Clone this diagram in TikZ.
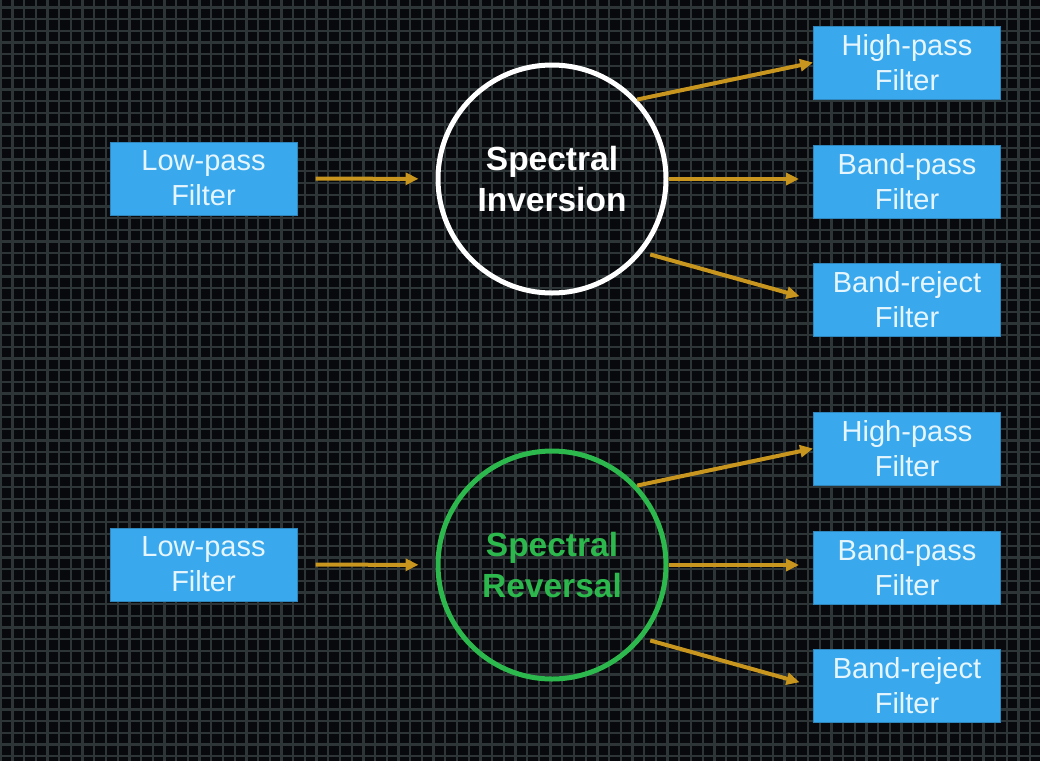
\documentclass[tikz,border=0pt]{standalone}
\usepackage{fontspec}
\setmainfont{Liberation Sans}
\usetikzlibrary{arrows.meta}
\definecolor{bg}{HTML}{08090C}
\definecolor{gridc}{HTML}{2E3537}
\definecolor{boxc}{HTML}{3AA8EC}
\definecolor{boxtext}{HTML}{E6F6FF}
\definecolor{arrowc}{HTML}{C8961E}
\definecolor{greenc}{HTML}{2DB84D}
\begin{document}
\begin{tikzpicture}[x=1pt,y=-1pt,
  filterbox/.style={fill=boxc, draw=boxc!80!black, line width=1pt, minimum width=187pt, minimum height=73pt, inner sep=0pt, text=boxtext, align=center, font=\fontsize{29}{35}\selectfont},
  ring/.style={circle, minimum size=228pt, inner sep=0pt, line width=5pt, align=center, font=\bfseries\fontsize{33.5}{41}\selectfont},
  flow/.style={draw=arrowc, line width=4pt, -{Triangle[length=13pt,width=12pt]}}]
\fill[bg] (0,0) rectangle (1040,761);
\useasboundingbox (0,0) rectangle (1040,761);
\foreach \i in {0,...,89} \draw[gridc, line width=2.3pt] ({0.7+\i*11.7},0) -- ++(0,761);
\foreach \j in {0,...,65} \draw[gridc, line width=2.3pt] (0,{-4.2+\j*11.7}) -- ++(1040,0);

\node[filterbox] (lp1) at (203.5,178.5) {Low-pass\\Filter};
\node[ring, draw=white, text=white] (c1) at (552,179) {Spectral\\Inversion};
\node[filterbox] (hp1) at (907,62.5) {High-pass\\Filter};
\node[filterbox] (bp1) at (907,181.5) {Band-pass\\Filter};
\node[filterbox] (br1) at (907,300) {Band-reject\\Filter};

\node[filterbox] (lp2) at (203.5,564.5) {Low-pass\\Filter};
\node[ring, draw=greenc, text=greenc] (c2) at (552,565) {Spectral\\Reversal};
\node[filterbox] (hp2) at (907,448.5) {High-pass\\Filter};
\node[filterbox] (bp2) at (907,567.5) {Band-pass\\Filter};
\node[filterbox] (br2) at (907,686) {Band-reject\\Filter};

\draw[flow, shorten <=18pt, shorten >=17pt] (lp1) -- (c1);
\draw[flow] (c1.43) -- (hp1.west);
\draw[flow, shorten >=14pt] (c1.east) -- (c1.east -| bp1.west);
\draw[flow, shorten <=8pt, shorten >=14pt] (c1.-39) -- (br1.west);

\draw[flow, shorten <=18pt, shorten >=17pt] (lp2) -- (c2);
\draw[flow] (c2.43) -- (hp2.west);
\draw[flow, shorten >=14pt] (c2.east) -- (c2.east -| bp2.west);
\draw[flow, shorten <=8pt, shorten >=14pt] (c2.-39) -- (br2.west);
\end{tikzpicture}
\end{document}
